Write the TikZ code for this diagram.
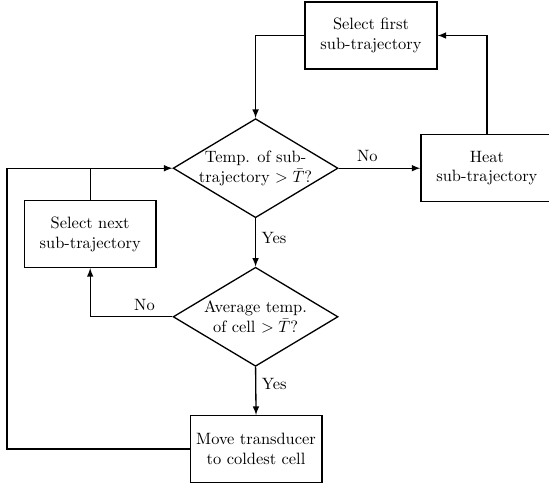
\documentclass[tikz,border=0pt]{standalone}
\usepackage{amsmath,amssymb}
\usetikzlibrary{shapes.geometric,positioning,calc}

\begin{document}
\begin{tikzpicture}[
    box/.style={draw, thick, minimum height=1.43cm, minimum width=2.82cm, align=center},
    decision/.style={diamond, draw, thick, aspect=1.67, minimum width=3.53cm, minimum height=2.12cm, inner xsep=-3pt, inner ysep=-3pt, align=center},
    arr/.style={->, thick, >=latex}
]
    \useasboundingbox (0,0) rectangle (11.75,10.38);

    % --- boxes ---
    \node[box] (first) at (7.94,9.62) {Select first\\sub-trajectory};
    \node[box] (heat) at (10.42,6.78) {Heat\\sub-trajectory};
    \node[box] (next) at (1.93,5.37) {Select next\\sub-trajectory};
    \node[box] (move) at (5.48,0.77) {Move transducer\\to coldest cell};

    % --- decisions ---
    \node[decision] (dec1) at (5.47,6.78) {Temp. of sub-\\trajectory $>\bar{T}$?};
    \node[decision] (dec2) at (5.47,3.60) {Average temp.\\of cell $>\bar{T}$?};

    % --- connectors ---
    \draw[arr] (first.west) -| (dec1.north);
    \draw[arr] (dec1.east) -- node[above, pos=0.35] {No} (heat.west);
    \draw[arr] (heat.north) |- (first.east);
    \draw[arr] (dec1.south) -- node[right, pos=0.4] {Yes} (dec2.north);
    \draw[arr] (dec2.south) -- node[right, pos=0.35] {Yes} (move.north);
    \draw[arr] (dec2.west) -| node[above, pos=0.17] {No} (next.south);

    % loop back to the first test
    \coordinate (back) at (0.15,0.77);
    \draw[arr] (move.west) -- (back) |- (dec1.west);
    \draw[thick] (next.north) -- (next.north |- dec1.west);
\end{tikzpicture}
\end{document}
